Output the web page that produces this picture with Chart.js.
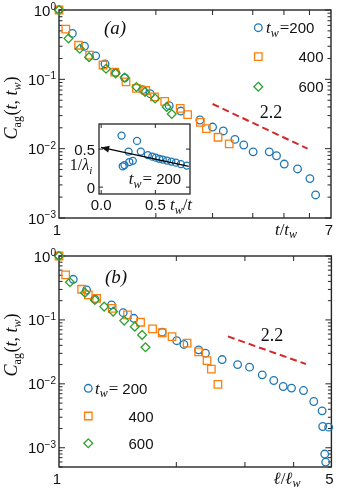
<!DOCTYPE html>
<html><head><meta charset="utf-8">
<script src="https://cdn.jsdelivr.net/npm/chart.js@4.4.0/dist/chart.umd.min.js"></script>
<style>
html,body{margin:0;padding:0;background:#fff;}
#wrap{position:relative;width:338px;height:490px;overflow:hidden;}
canvas{position:absolute;}
</style></head><body>
<div id="wrap">
<canvas id="cTop" width="338" height="245" style="left:0;top:0"></canvas>
<canvas id="cBot" width="338" height="245" style="left:0;top:245px"></canvas>
<canvas id="cIns" width="145" height="100" style="left:55px;top:116px"></canvas>
</div>
<script>
// ---------------- data ----------------
// panel (a): C_ag vs t/t_w
const topX200 = [1, 1.10, 1.20, 1.30, 1.39, 1.50, 1.60, 1.82, 1.92, 2.20, 2.39, 2.74, 3.00, 3.24, 3.52, 3.75, 4.01, 4.50, 4.74, 5.01, 5.51, 6.02, 6.27];
const topY200 = [1, 0.46, 0.30, 0.218, 0.167, 0.125, 0.105, 0.071, 0.062, 0.0417, 0.0349, 0.0259, 0.0205, 0.018, 0.0136, 0.0113, 0.0090, 0.0090, 0.0079, 0.0060, 0.0051, 0.0037, 0.00215];
const topX400 = [1, 1.05, 1.15, 1.245, 1.37, 1.49, 1.615, 1.74, 1.86, 1.98, 2.13, 2.38, 2.51, 2.75, 2.87, 3.12, 3.38];
const topY400 = [1, 0.53, 0.31, 0.224, 0.161, 0.127, 0.092, 0.074, 0.069, 0.056, 0.048, 0.038, 0.031, 0.024, 0.0195, 0.0146, 0.0117];
const topX600 = [1, 1.07, 1.16, 1.24, 1.40, 1.50, 1.60, 1.74, 1.85, 1.99, 2.16, 2.24];
const topY600 = [1, 0.39, 0.276, 0.209, 0.142, 0.122, 0.106, 0.0775, 0.066, 0.053, 0.040, 0.0316];
const topSlopeX = [3.0, 5.92];
const topSlopeY = [0.0441, 0.0100];
const topXTicks = [2, 3, 4, 5, 6];
const topXTickLabels = [{v: 1, t: '1'}, {v: 7, t: '7'}];

// panel (b): C_ag vs l/l_w
const botX200 = [1, 1.088, 1.177, 1.236, 1.364, 1.461, 1.556, 1.839, 2.005, 2.092, 2.282, 2.376, 2.622, 2.873, 3.083, 3.323, 3.557, 3.761, 3.95, 4.24, 4.505, 4.733, 4.75, 4.92, 4.806, 4.834];
const botY200 = [1, 0.432, 0.294, 0.211, 0.1716, 0.130, 0.106, 0.0643, 0.0473, 0.0413, 0.034, 0.0302, 0.024, 0.020, 0.01824, 0.01383, 0.01127, 0.00908, 0.00857, 0.00786, 0.00529, 0.00378, 0.00215, 0.0021, 0.000797, 0.000597];
const botX400 = [1, 1.040, 1.143, 1.189, 1.249, 1.369, 1.499, 1.619, 1.738, 1.84, 1.95, 2.131, 2.282, 2.398, 2.46, 2.557];
const botY400 = [1, 0.505, 0.302, 0.246, 0.218, 0.152, 0.1198, 0.092, 0.0724, 0.063, 0.0548, 0.0432, 0.0316, 0.0231, 0.017, 0.00982];
const botX600 = [1, 1.067, 1.166, 1.236, 1.306, 1.377, 1.47, 1.565, 1.634, 1.667];
const botY600 = [1, 0.388, 0.267, 0.205, 0.1615, 0.1349, 0.0975, 0.0785, 0.0583, 0.0374];
const botSlopeX = [2.713, 4.30];
const botSlopeY = [0.0552, 0.0204];
const botXTicks = [2, 3, 4];
const botXTickLabels = [{v: 1, t: '1'}, {v: 5, t: '5'}];

const yTickExp = [0, -1, -2, -3];

// inset: 1/lambda_i vs t_w/t
const insX = [0.188, 0.331, 0.253, 0.366, 0.292, 0.26, 0.199, 0.215, 0.431, 0.472, 0.505, 0.537, 0.569, 0.608, 0.648, 0.69, 0.736, 0.79];
const insY = [0.678, 0.608, 0.467, 0.467, 0.346, 0.33, 0.274, 0.29, 0.421, 0.401, 0.388, 0.372, 0.362, 0.349, 0.336, 0.322, 0.303, 0.283];
const insArrowX = [0.808, 0.0];
const insArrowY = [0.272, 0.522];
const insTicks = [0, 0.5];
const insXTickLabels = ['0.0', '0.5'];
const insYTickLabels = ['0', '0.5'];

// ---------------- style ----------------
const C_BLUE = '#1f77b4', C_ORANGE = '#ff7f0e', C_GREEN = '#2ca02c', C_RED = '#d62728';
const AX = '#262626';
const SANS = '15px "Liberation Sans", Arial, sans-serif';
const EXP = '10px "Liberation Sans", Arial, sans-serif';
const SERIF = '"Liberation Serif", "Times New Roman", serif';
const MI = 'italic 17px ' + SERIF, M = '17px ' + SERIF, MSI = 'italic 12px ' + SERIF, MS = '12px ' + SERIF;
const R_CIRC = 3.8, R_RECT = 5.3, R_DIAM = 4.4;

function pts(xs, ys) { return xs.map((x, i) => ({x: x, y: ys[i]})); }
function scatterDs(xs, ys, color, style, r) {
  return {data: pts(xs, ys), showLine: false, pointStyle: style, pointRadius: r, pointHoverRadius: r,
    pointBorderColor: color, pointBackgroundColor: 'rgba(0,0,0,0)', pointBorderWidth: 1.3, clip: false};
}
function slopeDs(xs, ys) {
  return {data: pts(xs, ys), showLine: true, borderColor: C_RED, borderWidth: 2, borderDash: [7, 4],
    pointRadius: 0, fill: false, clip: false};
}
function seg(ctx, x1, y1, x2, y2) { ctx.beginPath(); ctx.moveTo(x1, y1); ctx.lineTo(x2, y2); ctx.stroke(); }
function richWidth(ctx, segs) { let w = 0; for (const s of segs) { ctx.font = s.f; w += ctx.measureText(s.t).width + (s.dx || 0); } return w; }
function drawRich(ctx, x, y, segs, align) {
  const w = richWidth(ctx, segs);
  let cx = align === 'center' ? x - w / 2 : align === 'right' ? x - w : x;
  ctx.textAlign = 'left'; ctx.textBaseline = 'alphabetic';
  for (const s of segs) { ctx.font = s.f; cx += (s.dx || 0); ctx.fillText(s.t, cx, y + (s.dy || 0)); cx += ctx.measureText(s.t).width; }
}
function marker(ctx, style, x, y, color) {
  ctx.save(); ctx.strokeStyle = color; ctx.lineWidth = 1.3; ctx.beginPath();
  if (style === 'circle') ctx.arc(x, y, R_CIRC, 0, Math.PI * 2);
  else if (style === 'rect') { const h = R_RECT * Math.SQRT1_2; ctx.rect(x - h, y - h, 2 * h, 2 * h); }
  else { ctx.moveTo(x, y - R_DIAM); ctx.lineTo(x + R_DIAM, y); ctx.lineTo(x, y + R_DIAM); ctx.lineTo(x - R_DIAM, y); ctx.closePath(); }
  ctx.stroke(); ctx.restore();
}
const twSegs = (val, gap) => [{t: 't', f: MI}, {t: 'w', f: MSI, dy: 3.5}, {t: '=', f: M, dx: 1}, {t: val, f: SANS, dx: gap}];
const yTitleSegs = [{t: 'C', f: 'italic 18px ' + SERIF}, {t: 'ag', f: '12px ' + SERIF, dy: 3.5}, {t: '(', f: '18px ' + SERIF, dx: 0.5},
  {t: 't', f: 'italic 18px ' + SERIF}, {t: ', ', f: '18px ' + SERIF}, {t: 't', f: 'italic 18px ' + SERIF},
  {t: 'w', f: 'italic 12px ' + SERIF, dy: 3.5}, {t: ')', f: '18px ' + SERIF}];

function mainDecor(cfg) {
  return {
    id: 'decor',
    beforeDatasetsDraw(chart) {
      const ctx = chart.ctx, a = chart.chartArea, x = chart.scales.x, y = chart.scales.y;
      ctx.save(); ctx.strokeStyle = AX; ctx.lineWidth = 1;
      for (let e = -4; e <= 0; e++) for (let m = 1; m <= 9; m++) {
        const v = m * Math.pow(10, e);
        if (v < y.min * 0.999 || v > y.max * 1.001) continue;
        const py = y.getPixelForValue(v), L = m === 1 ? 6 : 3.5;
        seg(ctx, a.left, py, a.left + L, py); seg(ctx, a.right, py, a.right - L, py);
      }
      for (const v of cfg.xTicks) { const px = x.getPixelForValue(v); seg(ctx, px, a.bottom, px, a.bottom - 5); seg(ctx, px, a.top, px, a.top + 5); }
      ctx.lineWidth = 1.4; ctx.strokeRect(a.left, a.top, a.right - a.left, a.bottom - a.top);
      ctx.restore();
    },
    afterDraw(chart) {
      const ctx = chart.ctx, a = chart.chartArea, x = chart.scales.x, y = chart.scales.y;
      ctx.save(); ctx.fillStyle = '#111';
      for (const e of yTickExp) {
        const py = y.getPixelForValue(Math.pow(10, e));
        drawRich(ctx, a.left - 3, py + 5.5, [{t: '10', f: SANS}, {t: e === 0 ? '0' : '\u2212' + (-e), f: EXP, dy: -5.5}], 'right');
      }
      ctx.font = SANS; ctx.textAlign = 'center'; ctx.textBaseline = 'alphabetic';
      for (const l of cfg.xLabels) ctx.fillText(l.t, x.getPixelForValue(l.v) - 2, a.bottom + 16.5);
      drawRich(ctx, cfg.xTitleX, a.bottom + 16.5, cfg.xTitle, 'center');
      ctx.save(); ctx.translate(17, cfg.yTitleY); ctx.rotate(-Math.PI / 2); drawRich(ctx, 0, 0, yTitleSegs, 'center'); ctx.restore();
      drawRich(ctx, cfg.panel.x, cfg.panel.y, [{t: cfg.panel.t, f: 'italic 19px ' + SERIF}], 'center');
      drawRich(ctx, cfg.slope.x, cfg.slope.y, [{t: '2.2', f: '18px ' + SERIF}], 'center');
      const L = cfg.legend;
      const styles = [['circle', C_BLUE], ['rect', C_ORANGE], ['rectRot', C_GREEN]];
      for (let i = 0; i < 3; i++) {
        const yy = L.y0 + i * L.dy[i];
        marker(ctx, styles[i][0], L.mx, L.ys[i], styles[i][1]);
      }
      drawRich(ctx, L.tx, L.ys[0] + 5.5, twSegs('200', L.gap), 'left');
      ctx.font = SANS; ctx.textAlign = 'right';
      ctx.fillText('400', L.rx, L.ys[1] + 5.5);
      ctx.fillText('600', L.rx, L.ys[2] + 5.5);
      ctx.restore();
    }
  };
}

function mainChart(id, pad, xmax, ymin, sets, cfg) {
  return new Chart(document.getElementById(id), {
    type: 'scatter',
    data: {datasets: sets},
    options: {
      responsive: false, animation: false, events: [],
      layout: {padding: pad},
      plugins: {legend: {display: false}, tooltip: {enabled: false}},
      scales: {
        x: {type: 'logarithmic', min: 1, max: xmax, display: false},
        y: {type: 'logarithmic', min: ymin, max: 1, display: false}
      }
    },
    plugins: [mainDecor(cfg)]
  });
}

mainChart('cTop', {left: 59, top: 10, right: 7, bottom: 27}, 7, 1e-3, [
  scatterDs(topX600, topY600, C_GREEN, 'rectRot', R_DIAM),
  scatterDs(topX400, topY400, C_ORANGE, 'rect', R_RECT),
  scatterDs(topX200, topY200, C_BLUE, 'circle', R_CIRC),
  slopeDs(topSlopeX, topSlopeY)
], {
  xTicks: topXTicks, xLabels: topXTickLabels,
  xTitle: [{t: 't', f: MI}, {t: '/', f: M}, {t: 't', f: MI}, {t: 'w', f: MSI, dy: 3.5}], xTitleX: 286,
  yTitleY: 108,
  panel: {t: '(a)', x: 115, y: 34},
  slope: {x: 271, y: 118},
  legend: {mx: 258.3, ys: [27.7, 56.7, 86.7], tx: 266, rx: 323.5, gap: 0, y0: 0, dy: [0, 0, 0]}
});

mainChart('cBot', {left: 59, top: 11, right: 6, bottom: 23}, 5, 5e-4, [
  scatterDs(botX600, botY600, C_GREEN, 'rectRot', R_DIAM),
  scatterDs(botX400, botY400, C_ORANGE, 'rect', R_RECT),
  scatterDs(botX200, botY200, C_BLUE, 'circle', R_CIRC),
  slopeDs(botSlopeX, botSlopeY)
], {
  xTicks: botXTicks, xLabels: botXTickLabels,
  xTitle: [{t: '\u2113', f: MI}, {t: '/', f: M}, {t: '\u2113', f: MI}, {t: 'w', f: MSI, dy: 3.5}], xTitleX: 287,
  yTitleY: 100,
  panel: {t: '(b)', x: 116, y: 38},
  slope: {x: 272, y: 96},
  legend: {mx: 88.3, ys: [143.3, 171, 198.3], tx: 95, rx: 153.5, gap: 4, y0: 0, dy: [0, 0, 0]}
});

// ---------------- inset ----------------
const insetDecor = {
  id: 'insetDecor',
  beforeDraw(chart) {
    const ctx = chart.ctx, a = chart.chartArea;
    ctx.save(); ctx.fillStyle = '#fff'; ctx.fillRect(a.left, a.top, a.right - a.left, a.bottom - a.top); ctx.restore();
  },
  beforeDatasetsDraw(chart) {
    const ctx = chart.ctx, a = chart.chartArea, x = chart.scales.x, y = chart.scales.y;
    ctx.save(); ctx.strokeStyle = AX; ctx.lineWidth = 1;
    for (const v of insTicks) {
      const px = x.getPixelForValue(v), py = y.getPixelForValue(v);
      seg(ctx, px, a.bottom, px, a.bottom - 4); seg(ctx, px, a.top, px, a.top + 4);
      seg(ctx, a.left, py, a.left + 4, py); seg(ctx, a.right, py, a.right - 4, py);
    }
    ctx.lineWidth = 1.3; ctx.strokeRect(a.left, a.top, a.right - a.left, a.bottom - a.top);
    ctx.restore();
  },
  afterDraw(chart) {
    const ctx = chart.ctx, a = chart.chartArea, x = chart.scales.x, y = chart.scales.y;
    ctx.save(); ctx.fillStyle = '#111';
    // arrow head
    const tx = x.getPixelForValue(insArrowX[1]), ty = y.getPixelForValue(insArrowY[1]);
    const sx = x.getPixelForValue(insArrowX[0]), sy = y.getPixelForValue(insArrowY[0]);
    const ang = Math.atan2(ty - sy, tx - sx), L = 8, W = 3.5;
    ctx.beginPath(); ctx.moveTo(tx, ty);
    ctx.lineTo(tx - L * Math.cos(ang) + W * Math.sin(ang), ty - L * Math.sin(ang) - W * Math.cos(ang));
    ctx.lineTo(tx - L * Math.cos(ang) - W * Math.sin(ang), ty - L * Math.sin(ang) + W * Math.cos(ang));
    ctx.closePath(); ctx.fill();
    ctx.font = SANS; ctx.textBaseline = 'alphabetic';
    ctx.textAlign = 'right';
    insTicks.forEach((v, i) => ctx.fillText(insYTickLabels[i], a.left - 4, y.getPixelForValue(v) + 5.5));
    ctx.textAlign = 'center';
    insTicks.forEach((v, i) => ctx.fillText(insXTickLabels[i], x.getPixelForValue(v), a.bottom + 16));
    drawRich(ctx, 126, a.bottom + 16, [{t: 't', f: MI}, {t: 'w', f: MSI, dy: 3.5}, {t: '/', f: M}, {t: 't', f: MI}], 'center');
    drawRich(ctx, 26, 54, [{t: '1/', f: '16px ' + SERIF}, {t: '\u03bb', f: 'italic 16px ' + SERIF}, {t: 'i', f: 'italic 11px ' + SERIF, dy: 3.5}], 'center');
    drawRich(ctx, 100, 68, twSegs('200', 4), 'center');
    ctx.restore();
  }
};

new Chart(document.getElementById('cIns'), {
  type: 'scatter',
  data: {datasets: [
    {data: pts(insArrowX, insArrowY), showLine: true, borderColor: '#000', borderWidth: 1.3, pointRadius: 0, fill: false},
    {data: pts(insX, insY), showLine: false, pointStyle: 'circle', pointRadius: 3.5, pointBorderColor: C_BLUE,
      pointBackgroundColor: 'rgba(0,0,0,0)', pointBorderWidth: 1.3}
  ]},
  options: {
    responsive: false, animation: false, events: [],
    layout: {padding: {left: 44, top: 8, right: 10, bottom: 22}},
    plugins: {legend: {display: false}, tooltip: {enabled: false}},
    scales: {
      x: {type: 'linear', min: -0.02, max: 0.82, display: false},
      y: {type: 'linear', min: -0.09, max: 0.83, display: false}
    }
  },
  plugins: [insetDecor]
});
</script>
</body></html>
